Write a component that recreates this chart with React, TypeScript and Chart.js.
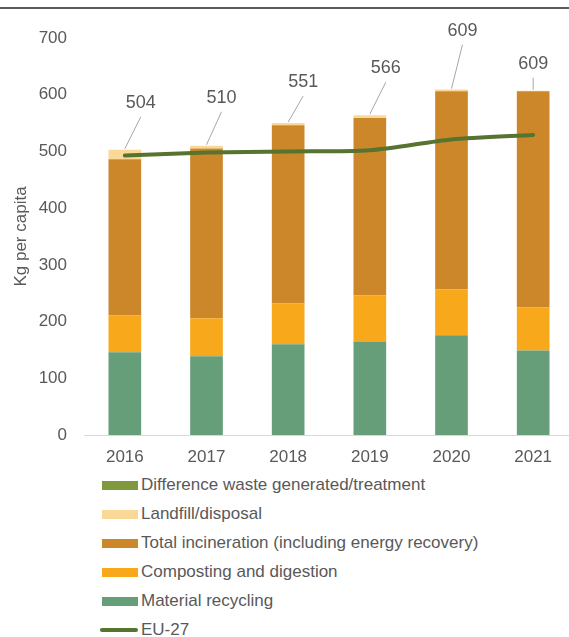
import React, { useEffect, useRef } from "react";
import { Chart, registerables } from "chart.js";

Chart.register(...registerables);

const years = ["2016", "2017", "2018", "2019", "2020", "2021"];
const materialRecycling = [146, 139, 160, 165, 176, 149];
const composting = [65, 67, 72, 81, 81, 76];
const incineration = [275, 299, 314, 313, 349, 381];
const landfill = [17, 5, 4, 5, 3, 1];
const difference = [0, 0, 0, 0, 0, 0];
const eu27 = [493, 498, 500, 502, 521, 529];
const totalLabels = [504, 510, 551, 566, 609, 609];

// label placement relative to the bar top (pixels) – layout only
const labelOffsets: [number, number][] = [
  [16, -47],
  [15, -48],
  [15, -41],
  [16, -47],
  [11, -59],
  [0, -27],
];

const FONT = "'Liberation Sans', Arial, sans-serif";
const TEXT = "#595959";

const legendItems = [
  { label: "Difference waste generated/treatment", color: "#7f9a3e", line: false },
  { label: "Landfill/disposal", color: "#fad898", line: false },
  { label: "Total incineration (including energy recovery)", color: "#cc872b", line: false },
  { label: "Composting and digestion", color: "#f7a81b", line: false },
  { label: "Material recycling", color: "#679e7a", line: false },
  { label: "EU-27", color: "#56732f", line: true },
];

const labelPlugin = {
  id: "totalLabels",
  afterDatasetsDraw(chart: any) {
    const { ctx, scales } = chart;
    const xs = scales.x;
    const ys = scales.y;
    ctx.save();
    years.forEach((_, i) => {
      const sum =
        materialRecycling[i] + composting[i] + incineration[i] + landfill[i] + Math.max(0, difference[i]);
      const cx = xs.getPixelForValue(i);
      const top = ys.getPixelForValue(sum);
      const [dx, dy] = labelOffsets[i];
      const lx = cx + dx;
      const ly = top + dy;
      ctx.strokeStyle = "#a6a6a6";
      ctx.lineWidth = 1;
      ctx.beginPath();
      ctx.moveTo(cx, top - 1);
      ctx.lineTo(lx, ly + 14);
      ctx.stroke();
      ctx.fillStyle = TEXT;
      ctx.font = `18px ${FONT}`;
      ctx.textAlign = "center";
      ctx.textBaseline = "middle";
      ctx.fillText(String(totalLabels[i]), lx, ly);
    });
    ctx.restore();
  },
};

const topRulePlugin = {
  id: "topRule",
  afterDraw(chart: any) {
    const { ctx } = chart;
    ctx.save();
    ctx.strokeStyle = "#262626";
    ctx.lineWidth = 1.5;
    ctx.beginPath();
    ctx.moveTo(0, 8);
    ctx.lineTo(chart.width, 8);
    ctx.stroke();
    ctx.restore();
  },
};

export default function App() {
  const ref = useRef<HTMLCanvasElement>(null);

  useEffect(() => {
    if (!ref.current) return;
    const barCommon = {
      type: "bar" as const,
      stack: "s",
      barPercentage: 1,
      categoryPercentage: 0.4,
      borderWidth: 0,
      order: 2,
    };
    const chart = new Chart(ref.current, {
      type: "bar",
      data: {
        labels: years,
        datasets: [
          { ...barCommon, label: "Material recycling", data: materialRecycling, backgroundColor: "#679e7a" },
          { ...barCommon, label: "Composting and digestion", data: composting, backgroundColor: "#f7a81b" },
          { ...barCommon, label: "Total incineration (including energy recovery)", data: incineration, backgroundColor: "#cc872b" },
          { ...barCommon, label: "Landfill/disposal", data: landfill, backgroundColor: "#fad898" },
          { ...barCommon, label: "Difference waste generated/treatment", data: difference, backgroundColor: "#7f9a3e" },
          {
            type: "line" as const,
            label: "EU-27",
            data: eu27,
            borderColor: "#56732f",
            borderWidth: 4,
            pointRadius: 0,
            tension: 0.25,
            borderCapStyle: "round",
            order: 1,
          } as any,
        ],
      },
      options: {
        animation: false,
        responsive: false,
        maintainAspectRatio: false,
        layout: { padding: { top: 38, right: 16, bottom: 0, left: 0 } },
        plugins: {
          legend: { display: false },
          tooltip: { enabled: false },
        },
        scales: {
          x: {
            stacked: true,
            grid: { display: false, drawTicks: false },
            border: { display: true, color: "#d9d9d9", width: 1 },
            ticks: { color: TEXT, font: { family: FONT, size: 17 }, padding: 12 },
            afterFit: (s: any) => {
              s.height = 36;
            },
          },
          y: {
            stacked: true,
            min: 0,
            max: 700,
            grid: { display: false, drawTicks: false },
            border: { display: false },
            ticks: { stepSize: 100, color: TEXT, font: { family: FONT, size: 17 }, padding: 17 },
            title: {
              display: true,
              text: "Kg per capita",
              color: TEXT,
              font: { family: FONT, size: 17 },
              padding: { top: 11, bottom: 0 },
            },
            afterFit: (s: any) => {
              s.width = 84;
            },
          },
        },
      },
      plugins: [labelPlugin, topRulePlugin],
    });
    return () => chart.destroy();
  }, []);

  return (
    <div
      style={{
        position: "fixed",
        left: 0,
        top: 0,
        width: 569,
        height: 637,
        overflow: "hidden",
        background: "#fff",
        fontFamily: FONT,
      }}
    >
      <canvas ref={ref} width={590} height={471} style={{ position: "absolute", left: 0, top: 0 }} />
      <div style={{ position: "absolute", left: 100, top: 471 }}>
        {legendItems.map((it, i) => (
          <div
            key={it.label}
            style={{
              position: "absolute",
              left: 0,
              top: 14 + i * 29 - 10,
              height: 20,
              display: "flex",
              alignItems: "center",
              whiteSpace: "nowrap",
              color: TEXT,
              fontSize: 17,
            }}
          >
            {it.line ? (
              <span
                style={{
                  display: "inline-block",
                  width: 38,
                  height: 4,
                  borderRadius: 2,
                  background: it.color,
                  marginRight: 3,
                }}
              />
            ) : (
              <span
                style={{
                  display: "inline-block",
                  width: 36,
                  height: 9,
                  background: it.color,
                  marginLeft: 2,
                  marginRight: 3,
                }}
              />
            )}
            <span>{it.label}</span>
          </div>
        ))}
      </div>
    </div>
  );
}
